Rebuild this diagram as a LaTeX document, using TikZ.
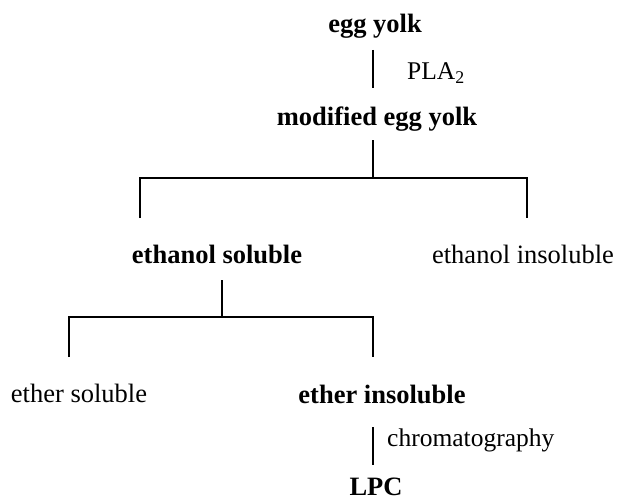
\documentclass[tikz,border=0pt]{standalone}
\usepackage{fontspec}
\setmainfont{Liberation Serif}
\begin{document}
\begin{tikzpicture}[x=1pt,y=-1pt,
  item/.style={inner sep=0pt,anchor=base,font=\fontsize{26.5}{30}\selectfont},
  key/.style={item,font=\fontsize{26.5}{30}\selectfont\bfseries},
  agent/.style={inner sep=0pt,anchor=base west,font=\fontsize{25.5}{29}\selectfont},
  link/.style={draw=black,line width=1.5pt}]
\useasboundingbox (0,0) rectangle (618,500);

% fractions
\node[key]  (ey)  at (375,33)  {egg yolk};
\node[key]  (mey) at (377,125) {modified egg yolk};
\node[key]  (es)  at (217,263) {ethanol soluble};
\node[item] (ei)  at (523,263) {ethanol insoluble};
\node[item] (ets) at (79,402)  {ether soluble};
\node[key]  (eti) at (382,403) {ether insoluble};
\node[key]  (lpc) at (376,495) {LPC};

% treatment labels
\node[agent] (pla) at (407,80) {PLA\textsubscript{2}};
\node[agent] (chr) at (387,446) {chromatography};

% branch points
\coordinate (j0) at (373,178);
\coordinate (l1) at (140,178);
\coordinate (r1) at (527,178);
\coordinate (j1) at (222,317);
\coordinate (l2) at (69,317);
\coordinate (r2) at (373,317);

% connectors
\draw[link] ([yshift=-17pt]ey.base -| j0) -- ([yshift=37pt]mey.base -| j0);
\draw[link] ([yshift=-15pt]mey.base -| j0) -- (j0);
\draw[link] ([yshift=45pt]es.base -| l1) -- (l1) -- (r1) -- ([yshift=45pt]ei.base -| r1);
\draw[link] ([yshift=-17pt]es.base -| j1) -- (j1);
\draw[link] ([yshift=45pt]ets.base -| l2) -- (l2) -- (r2) -- ([yshift=46pt]eti.base -| r2);
\draw[link] ([yshift=-24pt]eti.base -| r2) -- ([yshift=30pt]lpc.base -| r2);
\end{tikzpicture}
\end{document}
